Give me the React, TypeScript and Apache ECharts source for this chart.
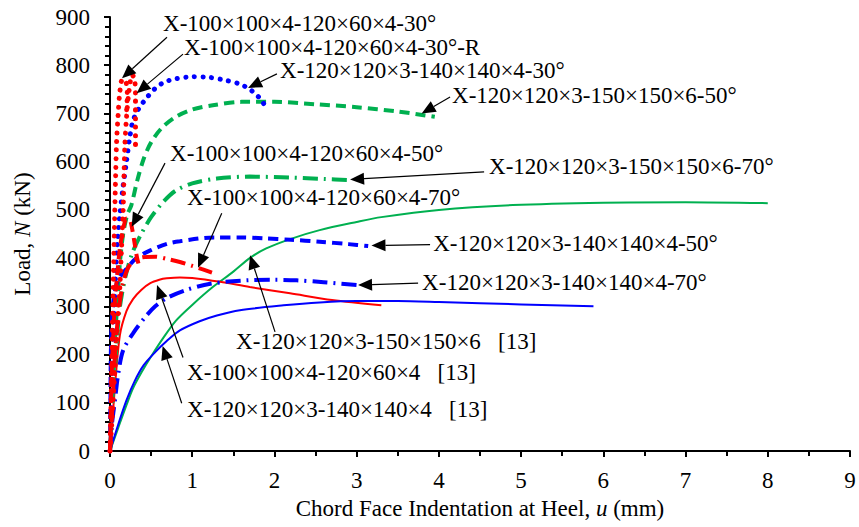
import React, { useEffect, useRef } from "react";
import * as echarts from "echarts";

const FONT_FAMILY = '"Liberation Serif", "Times New Roman", serif';
const FONT_SIZE = 23;
const RED = "#FF0000";
const BLUE = "#0000FF";
const GREEN = "#00B050";

// Load–indentation curves: [u (mm), N (kN)]
const ref150x6 = [[0, 0], [0.1, 48], [0.2, 95], [0.28, 130], [0.4, 168], [0.5, 196], [0.65, 235], [0.8, 270], [1.0, 303], [1.25, 340], [1.5, 372], [1.7, 400], [1.9, 420], [2.2, 440], [2.55, 458], [3.0, 475], [3.3, 485], [4.0, 500], [4.9, 510], [6.0, 515], [7.0, 516], [8.0, 514]];
const ref120x60 = [[0, 0], [0.03, 65], [0.06, 133], [0.12, 240], [0.2, 290], [0.28, 315], [0.38, 334], [0.49, 348], [0.6, 355], [0.69, 358], [0.85, 360], [1.0, 359], [1.34, 351], [1.7, 340], [2.19, 327], [2.7, 313], [3.3, 302]];
const ref140x4 = [[0, 0], [0.1, 55], [0.2, 105], [0.3, 145], [0.41, 178], [0.55, 205], [0.69, 228], [0.85, 250], [1.09, 269], [1.3, 281], [1.58, 292], [2.11, 302], [2.55, 308], [3.0, 311], [3.5, 311], [4.0, 309], [5.0, 304], [5.88, 300]];

const s120x60_30 = [[0, 0], [0.01, 80], [0.02, 170], [0.03, 260], [0.04, 350], [0.05, 430], [0.06, 510], [0.07, 580], [0.08, 640], [0.1, 700], [0.12, 745], [0.15, 770], [0.19, 768], [0.21, 740], [0.2, 700]];
const s120x60_30R = [[0, 0], [0.03, 80], [0.06, 170], [0.09, 260], [0.12, 340], [0.14, 420], [0.16, 500], [0.17, 570], [0.18, 630], [0.2, 690], [0.23, 745], [0.27, 780], [0.3, 770], [0.31, 730], [0.31, 680], [0.31, 620]];
const s120x60_50 = [[0, 0], [0.01, 80], [0.02, 160], [0.04, 240], [0.06, 310], [0.09, 370], [0.12, 420], [0.16, 460], [0.2, 482], [0.24, 480], [0.27, 460], [0.3, 430], [0.33, 400], [0.36, 380]];
const s120x60_70 = [[0, 0], [0.02, 60], [0.04, 130], [0.06, 200], [0.09, 265], [0.12, 310], [0.16, 350], [0.22, 380], [0.3, 396], [0.4, 402], [0.55, 403], [0.7, 398], [0.85, 392], [1.0, 384], [1.12, 377], [1.24, 370]];

const s140x4_30 = [[0, 0], [0.02, 100], [0.03, 200], [0.05, 300], [0.07, 370], [0.09, 430], [0.12, 490], [0.16, 550], [0.2, 600], [0.24, 650], [0.28, 685], [0.35, 710], [0.45, 733], [0.55, 752], [0.65, 764], [0.8, 772], [1.0, 776], [1.2, 775], [1.4, 769], [1.58, 761], [1.68, 752], [1.76, 742], [1.85, 726], [1.9, 709]];
const s140x4_50 = [[0, 0], [0.005, 100], [0.01, 200], [0.02, 260], [0.04, 310], [0.07, 340], [0.1, 355], [0.15, 368], [0.2, 378], [0.32, 400], [0.49, 416], [0.7, 430], [0.85, 435], [1.26, 443], [1.6, 443], [1.87, 441], [2.2, 438], [2.55, 434], [2.9, 429], [3.14, 425]];
const s140x4_70 = [[0, 0], [0.02, 50], [0.06, 105], [0.1, 160], [0.16, 209], [0.28, 244], [0.43, 278], [0.55, 300], [0.69, 317], [0.91, 333], [1.22, 347], [1.66, 354], [2.0, 355], [2.27, 354], [2.6, 350], [3.02, 344]];

const s150x6_50 = [[0, 0], [0.02, 70], [0.04, 150], [0.06, 230], [0.09, 310], [0.12, 390], [0.16, 450], [0.21, 490], [0.26, 510], [0.33, 560], [0.41, 606], [0.5, 640], [0.63, 670], [0.8, 693], [1.0, 708], [1.25, 717], [1.6, 724], [2.0, 724], [2.5, 719], [3.0, 713], [3.5, 704], [3.95, 693]];
const s150x6_70 = [[0, 0], [0.02, 60], [0.05, 140], [0.08, 220], [0.11, 285], [0.15, 330], [0.2, 370], [0.27, 410], [0.37, 447], [0.5, 485], [0.65, 517], [0.8, 540], [1.0, 555], [1.3, 565], [1.7, 569], [2.2, 567], [2.6, 564], [2.92, 562]];

const xTicks = { min: 0, max: 9, interval: 1 };
const yTicks = { min: 0, max: 900, interval: 100 };

type Kind = "solid" | "dot" | "dash" | "dashdot";

const curves: { name: string; data: number[][]; color: string; kind: Kind }[] = [
  { name: "X-120×120×3-150×150×6 [13]", data: ref150x6, color: GREEN, kind: "solid" },
  { name: "X-100×100×4-120×60×4 [13]", data: ref120x60, color: RED, kind: "solid" },
  { name: "X-120×120×3-140×140×4 [13]", data: ref140x4, color: BLUE, kind: "solid" },
  { name: "X-120×120×3-150×150×6-50°", data: s150x6_50, color: GREEN, kind: "dash" },
  { name: "X-120×120×3-150×150×6-70°", data: s150x6_70, color: GREEN, kind: "dashdot" },
  { name: "X-120×120×3-140×140×4-50°", data: s140x4_50, color: BLUE, kind: "dash" },
  { name: "X-120×120×3-140×140×4-70°", data: s140x4_70, color: BLUE, kind: "dashdot" },
  { name: "X-120×120×3-140×140×4-30°", data: s140x4_30, color: BLUE, kind: "dot" },
  { name: "X-100×100×4-120×60×4-50°", data: s120x60_50, color: RED, kind: "dash" },
  { name: "X-100×100×4-120×60×4-70°", data: s120x60_70, color: RED, kind: "dashdot" },
  { name: "X-100×100×4-120×60×4-30°", data: s120x60_30, color: RED, kind: "dot" },
  { name: "X-100×100×4-120×60×4-30°-R", data: s120x60_30R, color: RED, kind: "dot" },
];

// Callouts: text anchor (left, middle), arrow tail and arrow tip, all in data units
const callouts: { text: string; at: number[]; from: number[]; tip: number[] }[] = [
  { text: "X-100×100×4-120×60×4-30°", at: [0.645, 887], from: [0.693, 858], tip: [0.146, 773] },
  { text: "X-100×100×4-120×60×4-30°-R", at: [0.9, 836], from: [0.888, 823], tip: [0.325, 742] },
  { text: "X-120×120×3-140×140×4-30°", at: [2.068, 790], from: [2.03, 782], tip: [1.679, 753] },
  { text: "X-120×120×3-150×150×6-50°", at: [4.16, 738], from: [4.136, 734], tip: [3.79, 700] },
  { text: "X-100×100×4-120×60×4-50°", at: [0.73, 616], from: [0.669, 597], tip: [0.264, 465] },
  { text: "X-120×120×3-150×150×6-70°", at: [4.61, 589], from: [4.55, 579], tip: [2.92, 563] },
  { text: "X-100×100×4-120×60×4-70°", at: [0.937, 526], from: [1.359, 493], tip: [1.07, 380] },
  { text: "X-120×120×3-140×140×4-50°", at: [3.93, 431], from: [3.893, 428], tip: [3.18, 426] },
  { text: "X-120×120×3-140×140×4-70°", at: [3.796, 350], from: [3.747, 348], tip: [3.017, 344] },
  { text: "X-120×120×3-150×150×6\u00a0\u00a0 [13]", at: [1.533, 228], from: [2.007, 247], tip: [1.703, 406] },
  { text: "X-100×100×4-120×60×4\u00a0\u00a0 [13]", at: [0.937, 163], from: [0.888, 194], tip: [0.572, 344] },
  { text: "X-120×120×3-140×140×4\u00a0\u00a0 [13]", at: [0.937, 87], from: [0.872, 99], tip: [0.64, 218] },
];

function lineStyleFor(color: string, kind: Kind) {
  switch (kind) {
    case "solid":
      return { color, width: 2, type: "solid" as const };
    case "dot":
      return { color, width: 5, type: [0.1, 8.5], cap: "round" as const };
    case "dash":
      return { color, width: 4, type: [10, 6], cap: "butt" as const };
    default:
      return { color, width: 4, type: [15, 6, 2, 6], cap: "butt" as const };
  }
}

function buildOption(): echarts.EChartsOption {
  const textBase = { fontFamily: FONT_FAMILY, fontSize: FONT_SIZE, color: "#000" };
  return {
    animation: false,
    backgroundColor: "#fff",
    grid: { left: 110, right: 9, top: 17, bottom: 76, containLabel: false },
    xAxis: {
      type: "value",
      ...xTicks,
      name: "Chord Face Indentation at Heel, {i|u} (mm)",
      nameLocation: "middle",
      nameGap: 46,
      nameTextStyle: { ...textBase, rich: { i: { ...textBase, fontStyle: "italic" } } },
      axisLine: { show: true, onZero: false, lineStyle: { color: "#000", width: 2 } },
      axisTick: { show: true, inside: false, length: 6, lineStyle: { color: "#000", width: 2 } },
      minorTick: { show: true, splitNumber: 2, length: 5, lineStyle: { color: "#000", width: 2 } },
      axisLabel: { ...textBase, margin: 18 },
      splitLine: { show: false },
    },
    yAxis: {
      type: "value",
      ...yTicks,
      name: "Load, {i|N} (kN)",
      nameLocation: "middle",
      nameGap: 76,
      nameRotate: 90,
      nameTextStyle: { ...textBase, rich: { i: { ...textBase, fontStyle: "italic" } } },
      axisLine: { show: true, onZero: false, lineStyle: { color: "#000", width: 2 } },
      axisTick: { show: true, inside: false, length: 6, lineStyle: { color: "#000", width: 2 } },
      minorTick: { show: true, splitNumber: 5, length: 5, lineStyle: { color: "#000", width: 2 } },
      axisLabel: { ...textBase, margin: 20 },
      splitLine: { show: false },
    },
    series: curves.map((c) => ({
      type: "line" as const,
      name: c.name,
      data: c.data,
      showSymbol: false,
      smooth: 0.3,
      clip: false,
      lineStyle: lineStyleFor(c.color, c.kind),
      emphasis: { disabled: true },
    })),
  };
}

function buildCallouts(chart: echarts.ECharts) {
  const els: any[] = [];
  const toPx = (p: number[]) => chart.convertToPixel({ gridIndex: 0 }, p) as number[];
  const headLen = 14;
  const headHalf = 6;
  callouts.forEach((c) => {
    const at = toPx(c.at);
    const from = toPx(c.from);
    const tip = toPx(c.tip);
    const dx = tip[0] - from[0];
    const dy = tip[1] - from[1];
    const len = Math.hypot(dx, dy) || 1;
    const ux = dx / len;
    const uy = dy / len;
    const bx = tip[0] - ux * headLen;
    const by = tip[1] - uy * headLen;
    els.push({
      type: "line",
      silent: true,
      z: 100,
      shape: { x1: from[0], y1: from[1], x2: bx, y2: by },
      style: { stroke: "#000", lineWidth: 1.2 },
    });
    els.push({
      type: "polygon",
      silent: true,
      z: 100,
      shape: {
        points: [
          [tip[0], tip[1]],
          [bx - uy * headHalf, by + ux * headHalf],
          [bx + uy * headHalf, by - ux * headHalf],
        ],
      },
      style: { fill: "#000" },
    });
    els.push({
      type: "text",
      silent: true,
      z: 100,
      x: at[0],
      y: at[1],
      style: {
        text: c.text,
        fill: "#000",
        font: `${FONT_SIZE}px ${FONT_FAMILY}`,
        align: "left",
        verticalAlign: "middle",
        textAlign: "left",
        textVerticalAlign: "middle",
      },
    });
  });
  return els;
}

export default function App() {
  const ref = useRef<HTMLDivElement>(null);
  useEffect(() => {
    document.body.style.margin = "0";
    const chart = echarts.init(ref.current!, null, { renderer: "svg" });
    chart.setOption(buildOption());
    chart.setOption({ graphic: buildCallouts(chart) });
    return () => chart.dispose();
  }, []);
  return <div ref={ref} style={{ width: 859, height: 527 }} />;
}
